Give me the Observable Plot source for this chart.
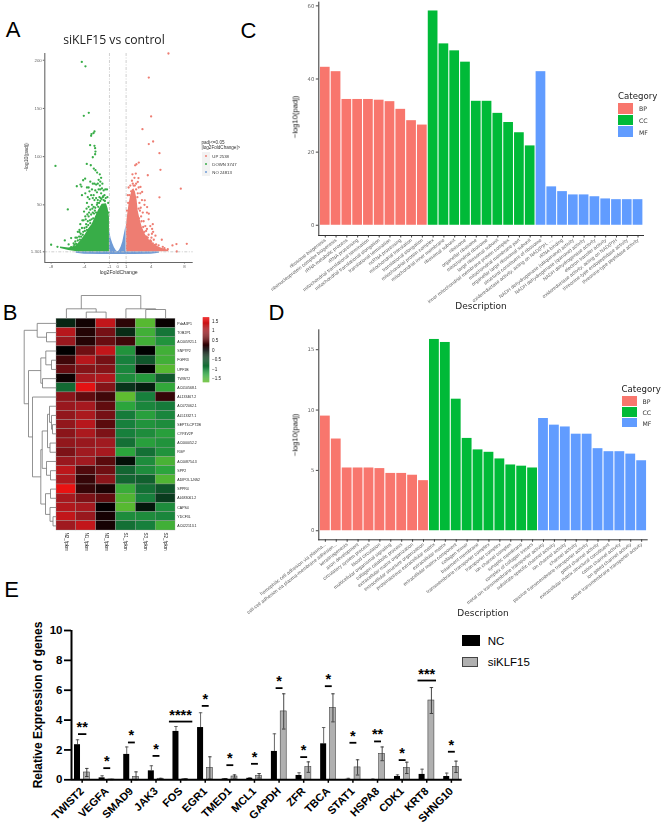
<!DOCTYPE html>
<html><head><meta charset="utf-8">
<script src="https://cdn.jsdelivr.net/npm/d3@7"></script>
<script src="https://cdn.jsdelivr.net/npm/@observablehq/plot@0.6"></script>
<style>
html,body{margin:0;padding:0;background:#fff}
#page{position:relative;width:667px;height:827px;overflow:hidden}
#page svg{position:absolute;left:0;top:0}
.soft{filter:blur(.35px)}
.t{position:absolute;white-space:nowrap;transform-origin:center}
</style></head><body><div id="page"></div>
<script>
// ---------- Panel A: volcano
const volcanoTicksX=[-8,-4,-1,0,1,4,8];
const volcanoTicksY=[1.301,50,100,150,200];
const downOutliers=[[-4.32,198.3],[-3.88,193.7],[-3.48,145.5],[-4.08,142.4],[-2.8,126.1],[-2.92,124.4],[-3.16,123.4],[-3.2,121.6],[-3.32,111.9],[-2.8,111.2],[-2.72,108.8],[-2.68,105.3],[-3,99.4],[-2.72,102.5],[-7.48,90.4],[-3.72,92.5],[-3.24,91.1],[-2.88,87.6],[-2.68,85.9],[-2.48,83.5],[-2.16,81.7],[-3.92,77.2],[-4.16,75.5],[-4.48,71],[-4.92,69.3],[-4.36,69],[-6,45.3],[-8,8.6],[-7.24,6.5],[-6.36,13.1],[-5.6,15.5],[-5.08,15.9],[-4.6,21.8],[-4.64,17],
[-1.3,66],[-1.5,66],[-1.7,65],[-1.9,67],[-2.1,66],[-2.3,66],[-2.5,63],[-2.7,65],[-2.9,60],[-1.6,60],[-1.8,58],[-2,62],[-2.2,58],[-2.4,55],[-2.6,57],[-2.8,55],[-3,57],[-3.2,60],[-3.4,56],[-3.6,58],[-3.9,62],[-3.7,52],[-3.5,48],[-3.1,50],[-2.9,48],[-2.7,47],[-2.5,50],[-3.3,45],[-3.9,38],[-4.1,34],[-4.05,43],[-3.8,30],[-4.3,26],[-4.6,24],[-4.8,22],[-5.1,12],[-5.3,10],[-5.9,9],[-4.9,16],[-4.5,30],[-3.5,38],[-3.2,40],[-3,42],[-2.4,72],[-2.6,71],[-2.8,72],[-3,72],[-3.3,74],[-3.5,68],[-3.7,68],[-2.3,76],[-2.1,74],[-2,78],[-4.3,60],[-3.1,66],[-3.4,64],[-2.15,70],[-1.85,72],[-3.75,46],[-4.25,34],[-4.45,20],[-3.6,33],[-3.3,31],[-2.95,36],[-2.6,42],[-2.35,48],[-2.1,54],[-1.95,56],[-1.7,55],[-1.45,57],[-3.05,46],[-4,26],[-3.7,24],[-4.2,19],[-5.3,7],[-5.6,6],
[-3.35,34],[-3.15,35],[-2.75,44],[-2.45,52],[-3.55,29],[-3.75,27],[-3.95,23],[-4.15,22],[-4.4,17],[-4.55,14],[-4.8,13],[-5,9.5],[-5.2,8.5],[-2.85,41],[-3.45,42],[-3.65,40],[-3.85,35],[-2.25,52],[-2.05,57],[-1.75,59],[-1.55,54],[-1.25,58],[-1.15,52],[-1.1,42]];
const upOutliers=[[6.08,207],[3.72,182],[4,141.7],[2.96,128.5],[4.24,115.7],[3.72,113],[5,103.6],[2.24,92.1],[2.52,93.9],[2.08,91],[5.12,86.3],[3.6,80.7],[1.76,81.7],[2.16,82.4],[2.48,77.8],[7.56,66.8],[5,57.8],[8.28,9.6],[7.04,9.3],[6.56,7.9],[7.08,1.6],[5.28,13.8],[4.12,25],[4.24,22],[4.52,18],[4.04,16],[4.32,13.8],[3.72,40.8],[3.52,47.7],[3.24,54.7],[2.92,63.4],[2.72,68.6],[2.4,73.8],
[1.2,60],[1.3,68],[1.5,70],[1.7,75],[1.9,70],[2,78],[2.2,72],[2.5,68],[2.7,62],[2.9,55],[3.2,50],[3.5,42],[3.7,35],[3.9,28],[4.1,20],[4.2,30],[2.4,62],[2.6,52],[2.75,47],[3,42],[3.1,33],[3.3,28],[3.5,25],[3.7,19],[3.9,13],[1.8,72],[2.05,70],[1.6,64],[2.8,38],[3.2,22],[2.55,36],[2.65,44],[3.45,17],[4.6,9],[4.9,8],[5.4,6.5],[5.6,5],[6,4],
[2.5,46],[2.35,58],[2.2,66],[1.4,60],[1.1,44],[1.25,52],[2.85,33],[3.05,27],[3.4,23],[3.6,16],[4,12],[4.2,10],[4.45,8.5]];
const noneEnvelope=[[-1,23.5],[-.8,14.8],[-.6,9.6],[-.4,5.5],[-.2,2.7],[0,1],[.2,2.7],[.4,6.2],[.6,11.4],[.8,20],[1,28.7]];
const noneBand=[[-5,-.2],[-4,-1.2],[-2,-1.6],[0,-1.6],[2,-1.6],[4,-1.2],[5,-.2]];
const downEnvelope=[[-1,37.4,1.3],[-1.16,46,1.3],[-1.36,51.2,1.3],[-1.88,50.5,1.3],[-2.28,45,1.3],[-2.68,37.4,1.3],[-3.08,29.7,1.3],[-3.48,25.2,1.3],[-3.88,19.3,1.3],[-4.28,14.5,1.3],[-4.68,10.3,1.3],[-5.08,6.9,1.6],[-5.88,5.2,2.6],[-6.88,6.2,4.7]];
const upEnvelope=[[1.04,29.7],[1.2,40.8],[1.36,51.2],[1.52,58.2],[1.72,65.1],[1.92,66.8],[2.12,63.4],[2.32,54.7],[2.44,44],[2.64,36],[2.92,27],[3.32,19],[3.72,14],[4.32,9],[5.12,5.5],[6.12,2.7]];
const volcanoLegend=[["UP 2538","#ee7d72"],["DOWN 3747","#38ad48"],["NO 24813","#6f9bd6"]];

// ---------- Panel B: heatmap
const heatCols=["N2_fpkm","N1_fpkm","N3_fpkm","S1_fpkm","S3_fpkm","S2_fpkm"];
const heatRows=["PdzA3P1","TOB2P1","AC005921.1","SNP7P2","FGFR3","UPF1B","TWIST2","AC010568.1","AL133467.2","AC072062.1","AL513327.1","SEPT3-CPT2B","CYP4V2P","AC000052.2","RGP","AC008754.3","SPP2","ADIPOL1-NS2","SPPR4","AL683061.2","CAPS4","YDCF3L","AC022113.1"];
const heatValues=[
[-.25,.1,1.3,.25,-1.6,.05],[1.2,.2,.7,-.3,-1.45,-.9],[.95,.2,.6,.35,-1.45,-1.15],[0,.65,1.3,-1.15,0,-1.45],[.35,1.2,.7,-1,-.6,-1.45],[.6,.8,.8,-1.05,-.02,-1.6],[.08,1.05,1.15,-1.1,-1.2,-.65],[-.8,1.6,.8,-.35,-.2,-1.35],[.85,.55,.35,-1.65,-1,.3],[.95,1.05,.55,-1.3,-1.05,-.95],[.9,1.1,.7,-.95,-1.25,-1.05],[.9,1.2,.5,-1,-1.15,-1.1],[.85,1.1,.75,-1,-1.1,-1.25],[.9,.95,1,-.85,-1.25,-1.15],[.75,1,1.05,-1.3,-.85,-1.15],[.95,1,.5,-.1,-1.1,-1.5],[1.25,.45,.65,-.75,-1.1,-1.3],[1.1,.3,.85,-.75,-.7,-1.55],[1.65,.3,.15,-1.4,-.85,-.6],[1.05,.75,.55,-1.55,-1,-.4],[1.15,1.05,.02,-1.6,-.15,-1.1],[1.3,.95,.12,-1.1,-1.1,-1.05],[1,1.3,.12,-.85,-1,-1.45]];
const heatStops=[-1.7,-1.3,-1,-.5,0,.5,1,1.7];
const heatRamp=["#66bf2e","#2ba53c","#17803c","#0d4a25","#000000","#5a0a0d","#a01a20","#ef1111"];
const colorbarTicks=[-1.5,-1,-.5,0,.5,1,1.5];
const colorbarSteps=d3.range(0,68).map(i=>-1.71+i*.05);
// [merge height, left, right]; numbers are leaves
const rowTree=[32.3,[19.3,0,[10,1,2]],[28,[15.7,[10.7,3,[5,4,5]],[14,6,7]],[24,8,[15.7,[14.3,[9,[7,9,[5,10,[4,11,12]]],[6.5,13,14]],[10,15,[6,16,17]]],[11,[6,18,19],[6.5,20,[3.5,21,22]]]]]]];
const colTree=[23.3,[10,0,[6.7,1,2]],[10,3,[9.3,4,5]]];

// ---------- Panels C, D: enrichment bars
const catNames=["BP","CC","MF"];
const catColors=["#F8766D","#00BA38","#619CFF"];
const termsC=["ribosome biogenesis","ribonucleoprotein complex biogenesis","rRNA metabolic process","rRNA processing","mitochondrial translational termination","mitochondrial translational elongation","translational termination","ncRNA processing","mitochondrial translation","translational elongation","mitochondrial protein complex","mitochondrial inner membrane","ribosomal subunit","ribosome","organellar ribosome","mitochondrial ribosome","large ribosomal subunit","inner mitochondrial membrane protein complex","mitochondrial membrane part","organellar large ribosomal subunit","structural constituent of ribosome","oxidoreductase activity, acting on NAD(P)H, ...","rRNA binding","NADH dehydrogenase (ubiquinone) activity","NADH dehydrogenase (quinone) activity","NADH dehydrogenase activity","electron transfer activity","oxidoreductase activity, acting on NAD(P)H","threonine-type endopeptidase activity","threonine-type peptidase activity"];
const valuesC=[43.2,42,34.4,34.4,34.4,34.2,33.8,31.7,28.6,27.4,58.6,49.6,47.7,44.6,33.9,33.9,30.6,28.1,25.3,21.7,42,10.5,9.2,8.3,8.3,7.8,7.2,7,7,7];
const termsD=["homophilic cell adhesion via plasma...","cell-cell adhesion via plasma-membrane adhesion...","keratinogenesis","axon development","circulatory system process","blood circulation","multicellular organismal signaling","collagen catabolic process","extracellular matrix organization","extracellular structure organization","proteinaceous extracellular matrix","extracellular matrix","extracellular matrix component","collagen trimer","basement membrane","transmembrane transporter complex","transporter complex","ion channel complex","synaptic membrane","complex of collagen trimers","metal ion transmembrane transporter activity","substrate-specific channel activity","ion channel activity","channel activity","passive transmembrane transporter activity","gated channel activity","extracellular matrix structural constituent","cation channel activity","ion gated channel activity","active transmembrane transporter activity"];
const valuesD=[9.5,7.6,5.2,5.2,5.2,5.15,4.75,4.75,4.6,4.15,15.85,15.6,10.9,7.65,6.7,6.5,5.95,5.45,5.35,5.2,9.3,8.75,8.6,8,8,6.8,6.55,6.55,6.35,5.8];

// ---------- Panel E: qPCR bars
const genes=["TWIST2","VEGFA","SMAD9","JAK3","FOS","EGR1","TMED1","MCL1","GAPDH","ZFR","TBCA","STAT1","HSPA8","CDK1","KRT8","SHNG10"];
const ncValues=[2.35,.13,1.7,.6,3.24,3.5,.06,.1,1.9,.29,2.41,.03,.02,.22,.36,.22];
const ncTops=[2.68,.27,2.2,.94,3.57,4.49,.08,.13,3.08,.47,3.5,.1,.05,.33,.71,.45];
const siValues=[.49,.02,.2,.07,.04,.8,.22,.27,4.58,.85,4.82,.83,1.74,.8,5.31,.87];
const siTops=[.76,.03,.53,.1,.07,1.54,.33,.42,5.76,1.2,5.76,1.34,2.2,1.18,6.18,1.25];
const sigLevels=[3.06,.78,2.5,1.6,3.9,4.95,.98,1.07,6.14,1.52,6.27,2.48,2.57,1.32,6.65,1.88];
const sigStars=["**","*","*","*","****","*","*","*","*","*","*","*","**","*","***","*"];
const sigSpans=[.34,.28,.28,.28,.95,.28,.28,.28,.28,.28,.28,.28,.28,.28,.75,.28];

const page=document.getElementById("page");
const sans="'Liberation Sans',Arial,sans-serif", wide="'DejaVu Sans',sans-serif";
function add(opts,soft=true){
  const el=Plot.plot({width:667,height:827,style:{background:"transparent",overflow:"visible"},...opts});
  if(soft)el.classList.add("soft");
  page.appendChild(el);
}
function txt(s,x,y,o={}){
  const d=document.createElement("div");d.className="t"+(o.soft===false?"":" soft");d.textContent=s;
  const ax=o.anchor==="start"?"0":"-50%";
  d.style.cssText+=`left:${x}px;top:${y}px;font:${o.weight||400} ${o.size||10}px ${o.font||sans};color:${o.color||"#000"};transform:translate(${ax},-50%) rotate(${o.rotate||0}deg)`;
  page.appendChild(d);return d;
}
function box(x,y,w,h,bg,border){
  const d=document.createElement("div");d.style.cssText=`position:absolute;left:${x}px;top:${y}px;width:${w}px;height:${h}px;background:${bg};box-sizing:border-box;${border?`border:1px solid ${border};`:""}`;
  page.appendChild(d);return d;
}

// A ----------------------------------------------------------------
const xy=a=>a.map(([x,y])=>({x,y}));
add({marginLeft:44.3,marginRight:474.3,marginTop:53,marginBottom:565,
  x:{domain:[-8.76,9.05],axis:null},y:{domain:[-9.8,207],axis:null},
  marks:[
    Plot.areaY(noneBand,{x:d=>d[0],y1:d=>d[1],y2:1.3,fill:"#6f9bd6"}),
    Plot.areaY(noneEnvelope,{x:d=>d[0],y1:0,y2:d=>d[1],fill:"#6f9bd6"}),
    Plot.areaY(downEnvelope,{x:d=>d[0],y1:d=>d[2],y2:d=>d[1],fill:"#38ad48",curve:"linear"}),
    Plot.dot(xy(downOutliers),{x:"x",y:"y",r:1.15,fill:"#38ad48"}),
    Plot.areaY(upEnvelope,{x:d=>d[0],y1:1.3,y2:d=>d[1],fill:"#ee7d72"}),
    Plot.dot(xy(upOutliers),{x:"x",y:"y",r:1.15,fill:"#ee7d72"}),
    Plot.ruleX([-1,1],{stroke:"#c4c4c4",strokeWidth:.8,strokeDasharray:"3 1.5 1 1.5"}),
    Plot.ruleY([1.301],{stroke:"#c4c4c4",strokeWidth:.8,strokeDasharray:"3 1.5 1 1.5"}),
    Plot.ruleX([-8.76],{stroke:"#666",strokeWidth:1.1}),
    Plot.ruleY([-9.8],{stroke:"#666",strokeWidth:1.1}),
    Plot.axisX({ticks:volcanoTicksX,tickFormat:d=>d,label:null,tickSize:1.5,tickPadding:1,fontSize:4.4,fill:"#666",stroke:"#666",fontFamily:sans}),
    Plot.axisY({ticks:volcanoTicksY,tickFormat:d=>d,label:null,tickSize:1.5,tickPadding:1.5,fontSize:4.4,fill:"#666",stroke:"#666",fontFamily:sans})
  ]});
txt("siKLF15 vs control",114,39,{size:12.2,font:"'Open Sans',sans-serif",color:"#222"});
txt("log2FoldChange",118.7,271.7,{size:5.2,color:"#333"});
txt("-log10(padj)",25.7,156.7,{size:5.2,color:"#333",rotate:-90});
txt("padj<=0.05",201.5,141.7,{size:4.6,anchor:"start",color:"#333"});
txt("|log2FoldChange|>",201.5,147,{size:4.6,anchor:"start",color:"#333"});
box(202,152,7.5,24,"#f2f2f2").classList.add("soft");
volcanoLegend.forEach(([s,c],i)=>{
  const y=156+i*8;
  box(204.7,y-1,2,2,c).style.borderRadius="50%";
  txt(s,212.3,y,{size:4.3,anchor:"start",color:"#333"});
});

// B ----------------------------------------------------------------
const heatData=heatRows.flatMap((r,i)=>heatCols.map((c,j)=>({r,c,v:heatValues[i][j]})));
const heatColor={type:"linear",domain:heatStops,range:heatRamp,clamp:true};
add({marginLeft:56,marginRight:492,marginTop:318.3,marginBottom:297,
  x:{domain:heatCols,padding:0,round:false,axis:null},y:{domain:heatRows,padding:0,round:false,axis:null},color:heatColor,
  marks:[
    Plot.cell(heatData,{x:"c",y:"r",fill:"v",stroke:"#9a9a9a",strokeWidth:.35}),
    Plot.axisY({anchor:"right",tickSize:0,tickPadding:1.8,fontSize:3.5,label:null,fontFamily:sans,fill:"#222"}),
    Plot.axisX({anchor:"bottom",tickSize:0,tickPadding:2,fontSize:4.6,tickRotate:90,label:null,fontFamily:sans,fill:"#222"})
  ]});
function dendro(node){
  const segs=[];
  (function walk(n){
    if(typeof n==="number")return {p:n+.5,h:0};
    const a=walk(n[1]),b=walk(n[2]),h=n[0];
    segs.push({h1:a.h,h2:h,p1:a.p,p2:a.p},{h1:b.h,h2:h,p1:b.p,p2:b.p},{h1:h,h2:h,p1:a.p,p2:b.p});
    return {p:(a.p+b.p)/2,h};
  })(node);
  return segs;
}
add({marginLeft:22.7,marginRight:611,marginTop:318.3,marginBottom:297,
  x:{domain:[33.3,0],axis:null},y:{domain:[23,0],axis:null},
  marks:[Plot.link(dendro(rowTree),{x1:"h1",x2:"h2",y1:"p1",y2:"p2",stroke:"#777",strokeWidth:.8})]});
add({marginLeft:56,marginRight:492,marginTop:295,marginBottom:508.7,
  x:{domain:[0,6],axis:null},y:{domain:[0,23.3],axis:null},
  marks:[Plot.link(dendro(colTree),{x1:"p1",x2:"p2",y1:"h1",y2:"h2",stroke:"#777",strokeWidth:.8})]});
add({marginLeft:202.7,marginRight:457.7,marginTop:317.7,marginBottom:444.7,
  x:{domain:[0,1],axis:null},y:{domain:[-1.71,1.67],axis:null},color:heatColor,
  marks:[
    Plot.rect(colorbarSteps,{x1:0,x2:1,y1:d=>d,y2:d=>d+.055,fill:d=>d+.025}),
    Plot.axisY({anchor:"right",ticks:colorbarTicks,tickFormat:d=>d===0?"0":(d<0?"\u2212":"")+Math.abs(d),tickSize:0,tickPadding:2.2,fontSize:4.6,label:null,fontFamily:sans,fill:"#222"})
  ]});

// C, D -------------------------------------------------------------
function enrich(terms,values,cfg){
  const data=terms.map((t,i)=>({t,v:values[i],c:catNames[Math.floor(i/10)]}));
  add({marginLeft:318.3,marginRight:667-cfg.right,marginTop:cfg.top,marginBottom:827-cfg.bottom,
    x:{domain:terms,paddingInner:.1,paddingOuter:.15,round:false,axis:null},
    y:{domain:cfg.yDomain,axis:null},
    color:{domain:catNames,range:catColors},
    marks:[
      Plot.barY(data,{x:"t",y:"v",fill:"c"}),
      Plot.axisX({anchor:"bottom",tickSize:2.5,tickPadding:1.5,tickRotate:-38,fontSize:4.9,label:null,fontFamily:sans,fill:"#666",stroke:"#444"}),
      Plot.axisY({ticks:cfg.ticks,tickSize:2.5,tickPadding:2,fontSize:5.3,label:null,fontFamily:wide,fill:"#666",stroke:"#444"}),
      Plot.ruleY([cfg.yDomain[0]],{stroke:"#333",strokeWidth:1}),
      Plot.frame({anchor:"left",stroke:"#333",strokeWidth:1})
    ]});
  txt("Category",cfg.legendX,cfg.legendY,{size:8.6,font:wide,anchor:"start",color:"#222"});
  catNames.forEach((n,i)=>{
    const y=cfg.legendY+7+i*cfg.legendStep;
    box(cfg.legendX,y,15,cfg.legendStep-1,catColors[i]).classList.add("soft");
    txt(n,cfg.legendX+21,y+cfg.legendStep/2-.5,{size:6.2,font:wide,anchor:"start",color:"#333"});
  });
  txt("Description",cfg.descX,cfg.descY,{size:9,font:wide,color:"#222"});
  txt("\u2212log10(padj)",295,cfg.titleY,{size:7.6,font:sans,rotate:-90,color:"#111"});
}
enrich(termsC,valuesC,{right:644,top:1.7,bottom:235,yDomain:[-2.8,61],ticks:[0,20,40,60],
  legendX:618,legendY:96,legendStep:11.7,descX:481,descY:306,titleY:117});
enrich(termsD,valuesD,{right:647.7,top:329.3,bottom:539.3,yDomain:[-.75,16.65],ticks:[0,5,10,15],
  legendX:621.5,legendY:389,legendStep:10.8,descX:483,descY:613,titleY:435});

// E ----------------------------------------------------------------
const shift=.189,half=.122,cap=.07;
const ncBars=genes.map((g,i)=>({i,v:ncValues[i],top:ncTops[i]}));
const siBars=genes.map((g,i)=>({i,v:siValues[i],top:siTops[i]}));
const sigData=genes.map((g,i)=>({i,y:sigLevels[i],s:sigStars[i],w:sigSpans[i]}));
add({marginLeft:71,marginRight:205.3,marginTop:630,marginBottom:47.7,
  x:{domain:[-.433,15.44],axis:null},y:{domain:[0,10],axis:null},
  marks:[
    Plot.ruleX(ncBars,{x:d=>d.i-shift,y1:"v",y2:"top",stroke:"#555",strokeWidth:.9}),
    Plot.link(ncBars,{x1:d=>d.i-shift-cap,x2:d=>d.i-shift+cap,y1:"top",y2:"top",stroke:"#555",strokeWidth:.9}),
    Plot.rectY(ncBars,{x1:d=>d.i-shift-half,x2:d=>d.i-shift+half,y1:0,y2:"v",fill:"#000"}),
    Plot.rectY(siBars,{x1:d=>d.i+shift-half,x2:d=>d.i+shift+half,y1:0,y2:"v",fill:"#b0b0b0",stroke:"#444",strokeWidth:.6}),
    Plot.ruleX(siBars,{x:d=>d.i+shift,y1:d=>Math.max(0,2*d.v-d.top),y2:"top",stroke:"#333",strokeWidth:.9}),
    Plot.link(siBars,{x1:d=>d.i+shift-cap,x2:d=>d.i+shift+cap,y1:"top",y2:"top",stroke:"#333",strokeWidth:.9}),
    Plot.link(siBars,{x1:d=>d.i+shift-cap,x2:d=>d.i+shift+cap,y1:d=>Math.max(0,2*d.v-d.top),y2:d=>Math.max(0,2*d.v-d.top),stroke:"#333",strokeWidth:.9}),
    Plot.link(sigData,{x1:d=>d.i-d.w/2,x2:d=>d.i+d.w/2,y1:"y",y2:"y",stroke:"#000",strokeWidth:1.8}),
    Plot.text(sigData,{x:"i",y:"y",text:"s",lineAnchor:"bottom",fontSize:14.5,fontWeight:700,fontFamily:sans,fill:"#000",dy:-2}),
    Plot.ruleX([-.433],{y1:0,y2:10,stroke:"#000",strokeWidth:2}),
    Plot.ruleY([0],{stroke:"#000",strokeWidth:2}),
    Plot.axisY({ticks:[0,2,4,6,8,10],tickSize:7,tickPadding:2,strokeWidth:1.8,stroke:"#000",fontSize:11.5,fontWeight:700,label:null,fontFamily:sans,fill:"#000"}),
    Plot.axisX({ticks:d3.range(genes.length),tickFormat:i=>genes[i],tickSize:3.5,tickPadding:6,tickRotate:-45,strokeWidth:1.5,stroke:"#000",fontSize:11,fontWeight:700,label:null,fontFamily:sans,fill:"#000"})
  ]},false);
txt("Relative Expression of genes",38,705,{size:12,weight:700,rotate:-90,soft:false});
box(462.3,635,17.7,10.7,"#000");
box(462.3,657,15.7,9.5,"#b0b0b0","#444");
txt("NC",487.7,640.7,{size:11.5,anchor:"start",soft:false});
txt("siKLF15",487.7,661.5,{size:11.5,anchor:"start",soft:false});

// Panel letters
[["A",13,30],["C",248.5,31],["B",10,312.5],["D",276.5,313],["E",11.5,589.5]].forEach(([s,x,y])=>txt(s,x,y,{size:22,soft:false}));
</script></body></html>
